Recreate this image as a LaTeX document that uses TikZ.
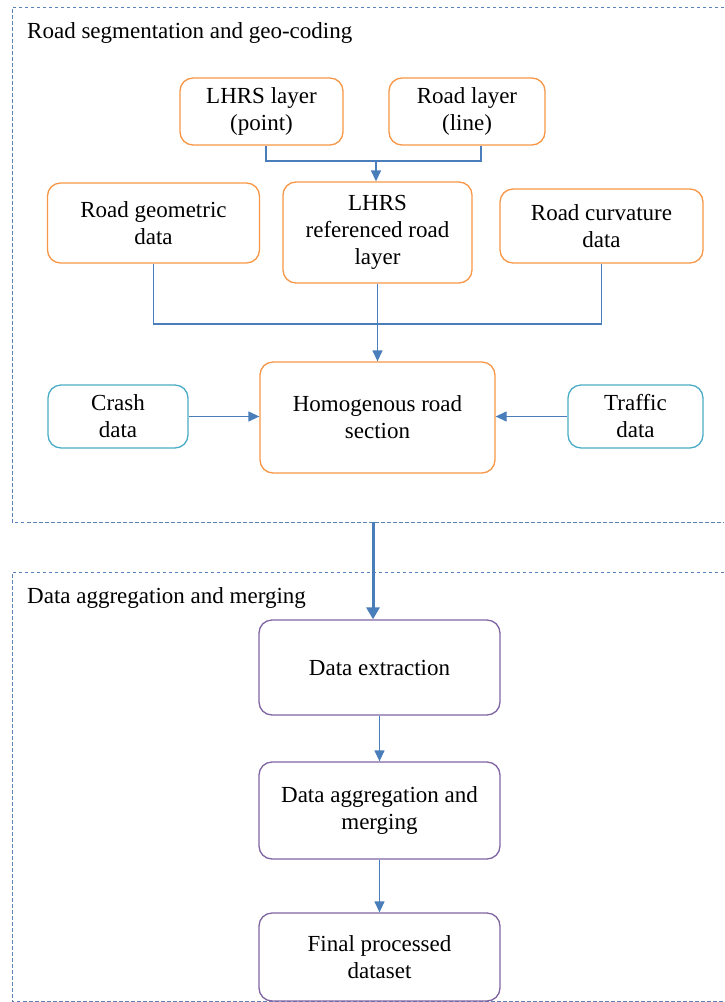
\documentclass[tikz,border=0pt]{standalone}
\usepackage{fontspec}
\setmainfont{Liberation Serif}
\usetikzlibrary{arrows.meta}
\definecolor{boxorange}{HTML}{F79646}
\definecolor{boxcyan}{HTML}{4BACC6}
\definecolor{boxpurple}{HTML}{8064A2}
\definecolor{linkblue}{HTML}{4A7EBB}
\definecolor{frameblue}{HTML}{5A82B8}
\tikzset{
  stage/.style={draw, line width=1.3pt, rounded corners=13pt, align=center,
    inner sep=2pt, font=\fontsize{23}{27}\selectfont},
  orangebox/.style={stage, draw=boxorange},
  cyanbox/.style={stage, draw=boxcyan},
  purplebox/.style={stage, draw=boxpurple},
  link/.style={draw=linkblue, line width=1.3pt},
  linkarrow/.style={link, -{Triangle[length=11pt,width=10pt]}},
  bigarrow/.style={draw=linkblue, line width=3pt, -{Triangle[length=12pt,width=13pt]}},
  frame/.style={draw=frameblue, line width=0.9pt, dash pattern=on 3.5pt off 2.5pt},
  grouptitle/.style={anchor=base west, inner sep=0pt, font=\fontsize{23}{27}\selectfont}
}
\begin{document}
\begin{tikzpicture}[x=1pt, y=-1pt]
\useasboundingbox (0,0) rectangle (724,1002);

% group frames (open on the right)
\draw[frame] (724,7) -- (12,7) -- (12,522) -- (724,522);
\draw[frame] (724,572) -- (12,572) -- (12,1001) -- (724,1001);
\node[grouptitle] (t1) at (27,38) {Road segmentation and geo-coding};
\node[grouptitle] (t2) at (27,603) {Data aggregation and merging};

% road segmentation stage
\node[orangebox, minimum width=163pt, minimum height=67pt] (lhrs) at (261.5,111.5) {LHRS layer\\(point)};
\node[orangebox, minimum width=156pt, minimum height=67pt] (road) at (467,111.5) {Road layer\\(line)};
\node[orangebox, minimum width=212pt, minimum height=80pt] (geo) at (153.5,223) {Road geometric\\data};
\node[orangebox, minimum width=189pt, minimum height=101pt] (ref) at (377.5,232.5) {LHRS\\referenced road\\layer};
\node[orangebox, minimum width=203pt, minimum height=74pt] (curv) at (601.5,226) {Road curvature\\data};
\node[orangebox, minimum width=235pt, minimum height=111pt] (homog) at (377.5,417.5) {Homogenous road\\section};
\node[cyanbox, minimum width=140pt, minimum height=63pt] (crash) at (118,416.5) {Crash\\data};
\node[cyanbox, minimum width=135pt, minimum height=63pt] (traffic) at (635.5,416.5) {Traffic\\data};

% aggregation stage
\node[purplebox, minimum width=241pt, minimum height=95pt] (extract) at (379.5,667.5) {Data extraction};
\node[purplebox, minimum width=241pt, minimum height=97pt] (aggr) at (379.5,810.5) {Data aggregation and\\merging};
\node[purplebox, minimum width=241pt, minimum height=88pt] (final) at (379.5,957) {Final processed\\dataset};

% junctions
\coordinate (j1) at (376,161);
\coordinate (j2) at (377.5,324);
\coordinate (g1) at (373,522);

% connectors
\draw[link] ([xshift=4.5pt]lhrs.south) |- (j1) -| ([xshift=14pt]road.south);
\draw[linkarrow] (j1) -- (j1 |- ref.north);
\draw[link] (geo.south) |- (j2) -| (curv.south);
\draw[linkarrow] (ref.south) -- (homog.north);
\draw[linkarrow] (crash.east) -- (crash.east -| homog.west);
\draw[linkarrow] (traffic.west) -- (traffic.west -| homog.east);
\draw[bigarrow] (g1) -- (g1 |- extract.north);
\draw[linkarrow] (extract.south) -- (aggr.north);
\draw[linkarrow] (aggr.south) -- (final.north);
\end{tikzpicture}
\end{document}
